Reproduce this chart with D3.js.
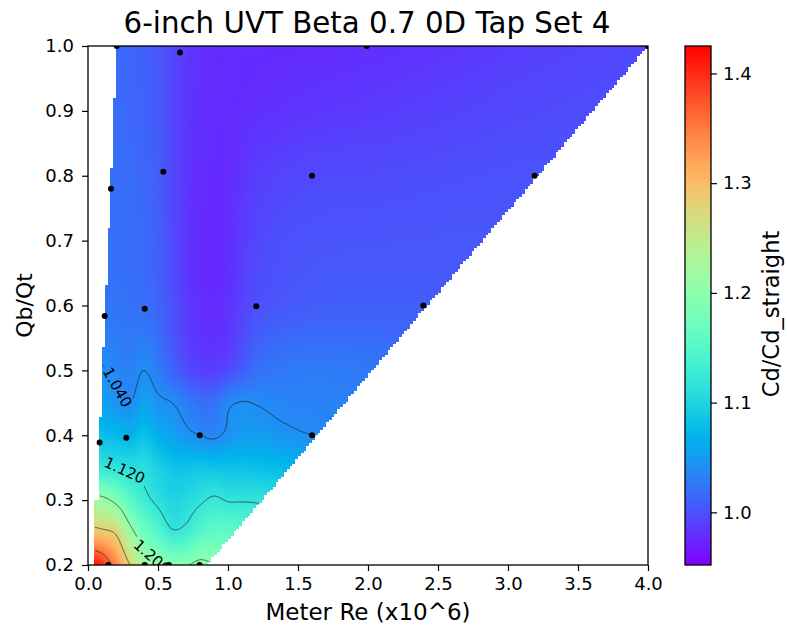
<!DOCTYPE html>
<html>
<head>
<meta charset="utf-8">
<script src="https://cdn.jsdelivr.net/npm/d3@7"></script>
<style>
  body { margin: 0; background: #fff; }
  text { font-family: "DejaVu Sans", sans-serif; fill: #000; }
</style>
</head>
<body>
<svg id="chart" width="787" height="631"></svg>
<script>
// ---- data -------------------------------------------------------------
const chartTitle = "6-inch UVT Beta 0.7 0D Tap Set 4";
const xLabel = "Meter Re (x10^6)";
const yLabel = "Qb/Qt";
const colorLabel = "Cd/Cd_straight";

// Gridded Cd/Cd_straight surface: columns = Meter Re (x10^6), rows = Qb/Qt
const reGrid = [0, 0.1, 0.2, 0.3, 0.4, 0.5, 0.6, 0.7, 0.8, 0.9, 1.0, 1.1, 1.2, 1.4, 1.6, 2.0, 2.5, 3.0, 3.5, 4.0];
const qGrid = [0.2, 0.25, 0.3, 0.35, 0.4, 0.45, 0.5, 0.6, 0.7, 0.8, 0.9, 1.0];
const cdQ020 = [1.43, 1.40, 1.34, 1.28, 1.225, 1.205, 1.2, 1.198, 1.21, 1.2, 1.19, 1.18, 1.17, 1.16, 1.15, 1.14, 1.12, 1.11, 1.1, 1.09];
const cdQ025 = [1.30, 1.29, 1.275, 1.215, 1.175, 1.15, 1.125, 1.13, 1.15, 1.16, 1.16, 1.155, 1.15, 1.14, 1.13, 1.12, 1.1, 1.09, 1.08, 1.07];
const cdQ030 = [1.215, 1.21, 1.19, 1.155, 1.13, 1.113, 1.1, 1.105, 1.115, 1.125, 1.118, 1.118, 1.117, 1.11, 1.1, 1.09, 1.08, 1.07, 1.06, 1.05];
const cdQ035 = [1.13, 1.122, 1.117, 1.11, 1.11, 1.095, 1.085, 1.082, 1.085, 1.083, 1.082, 1.082, 1.08, 1.075, 1.07, 1.065, 1.06, 1.055, 1.05, 1.045];
const cdQ040 = [1.085, 1.08, 1.075, 1.07, 1.08, 1.065, 1.055, 1.046, 1.04, 1.036, 1.045, 1.052, 1.052, 1.046, 1.04, 1.035, 1.03, 1.025, 1.02, 1.015];
const cdQ045 = [1.056, 1.053, 1.047, 1.04, 1.056, 1.045, 1.04, 1.03, 1.02, 1.022, 1.036, 1.041, 1.039, 1.034, 1.033, 1.031, 1.026, 1.02, 1.013, 1.006];
const cdQ050 = [1.045, 1.042, 1.036, 1.031, 1.04, 1.029, 1.014, 1.0, 0.992, 0.99, 0.997, 1.008, 1.02, 1.026, 1.028, 1.026, 1.021, 1.014, 1.007, 1.002];
const cdQ060 = [1.024, 1.024, 1.023, 1.022, 1.02, 1.013, 1.001, 0.988, 0.98, 0.978, 0.982, 0.992, 1.0, 1.005, 1.008, 1.009, 1.008, 1.006, 1.003, 1.0];
const cdQ070 = [1.022, 1.022, 1.021, 1.019, 1.016, 1.01, 0.997, 0.985, 0.978, 0.976, 0.979, 0.987, 0.994, 1.0, 1.002, 1.003, 1.004, 1.004, 1.002, 1.0];
const cdQ080 = [1.022, 1.022, 1.02, 1.018, 1.014, 1.008, 0.996, 0.984, 0.979, 0.977, 0.978, 0.983, 0.988, 0.993, 0.996, 0.997, 0.999, 1.001, 1.001, 1.0];
const cdQ090 = [1.02, 1.02, 1.018, 1.015, 1.012, 1.006, 0.995, 0.985, 0.98, 0.978, 0.978, 0.979, 0.98, 0.982, 0.984, 0.987, 0.991, 0.995, 0.998, 1.0];
const cdQ100 = [1.018, 1.018, 1.016, 1.013, 1.01, 1.004, 0.995, 0.986, 0.981, 0.979, 0.978, 0.978, 0.978, 0.978, 0.978, 0.979, 0.983, 0.988, 0.992, 0.996];
const cdGrid = [cdQ020, cdQ025, cdQ030, cdQ035, cdQ040, cdQ045, cdQ050, cdQ060, cdQ070, cdQ080, cdQ090, cdQ100];

// Measured test points
const pointRe = [0.205, 0.657, 1.99, 4.0, 0.164, 0.538, 1.60, 3.19, 0.119, 0.405, 1.202, 2.395, 0.083, 0.274, 0.798, 1.60, 0.145, 0.405, 0.578, 0.797];
const pointQ  = [1.0, 0.99, 1.0, 1.0, 0.78, 0.806, 0.8, 0.8, 0.584, 0.595, 0.599, 0.6, 0.389, 0.396, 0.4, 0.4, 0.2, 0.2, 0.2, 0.2];

// Outline of the region covered by the test matrix
const domainRe = [0.05, 0.05, 0.086, 0.083, 0.119, 0.164, 0.205, 4.0, 0.85];
const domainQ  = [0.2, 0.3, 0.3, 0.389, 0.584, 0.78, 1.0, 1.0, 0.2];

// Axes, colour range and contours
const xTicks = [0, 0.5, 1.0, 1.5, 2.0, 2.5, 3.0, 3.5, 4.0];
const yTicks = [0.2, 0.3, 0.4, 0.5, 0.6, 0.7, 0.8, 0.9, 1.0];
const colorTicks = [1.0, 1.1, 1.2, 1.3, 1.4];
const colorMin = 0.952, colorMax = 1.425;
const contourLevels = [1.04, 1.12, 1.20, 1.28, 1.36];
const labelLevels = [1.04, 1.12, 1.20];
const labelRe = [0.21, 0.262, 0.457];
const labelQ  = [0.474, 0.346, 0.213];

// ---- layout -----------------------------------------------------------
const plot = { left: 88, right: 648, top: 46, bottom: 565 };
const cbar = { left: 685, right: 711 };
const svg = d3.select("#chart");
const defs = svg.append("defs");

const xScale = d3.scaleLinear().domain([0, 4]).range([plot.left, plot.right]);
const yScale = d3.scaleLinear().domain([0.2, 1.0]).range([plot.bottom, plot.top]);

// matplotlib-style "rainbow" colormap
function rainbow(t) {
  const c = v => Math.max(0, Math.min(1, v));
  const r = c(Math.abs(2 * t - 0.5));
  const g = c(Math.sin(Math.PI * t));
  const b = c(Math.cos(Math.PI * t / 2));
  return d3.rgb(r * 255, g * 255, b * 255).formatRgb();
}
const color = d3.scaleSequential(rainbow).domain([colorMin, colorMax]).clamp(true);
const LUT_N = 1024;
const lut = d3.range(LUT_N).map(k => d3.rgb(color(colorMin + (colorMax - colorMin) * k / (LUT_N - 1))));

// ---- smooth surface (cubic Hermite, separable) ------------------------
function slopes(xs, vs) {
  const n = xs.length, m = new Array(n);
  for (let i = 0; i < n; i++) {
    if (i === 0) m[i] = (vs[1] - vs[0]) / (xs[1] - xs[0]);
    else if (i === n - 1) m[i] = (vs[n - 1] - vs[n - 2]) / (xs[n - 1] - xs[n - 2]);
    else {
      const d0 = (vs[i] - vs[i - 1]) / (xs[i] - xs[i - 1]);
      const d1 = (vs[i + 1] - vs[i]) / (xs[i + 1] - xs[i]);
      m[i] = (d0 + d1) / 2;
    }
  }
  return m;
}
function hermite(xs, vs, ms, x) {
  const n = xs.length;
  if (x <= xs[0]) return vs[0];
  if (x >= xs[n - 1]) return vs[n - 1];
  const k = d3.bisectRight(xs, x) - 1;
  const h = xs[k + 1] - xs[k], t = (x - xs[k]) / h, t2 = t * t, t3 = t2 * t;
  return (2 * t3 - 3 * t2 + 1) * vs[k] + (t3 - 2 * t2 + t) * h * ms[k]
       + (-2 * t3 + 3 * t2) * vs[k + 1] + (t3 - t2) * h * ms[k + 1];
}
const rowSlopes = cdGrid.map(row => slopes(reGrid, row));
function columnAt(re) {
  const col = cdGrid.map((row, j) => hermite(reGrid, row, rowSlopes[j], re));
  return { col, ms: slopes(qGrid, col) };
}

// ---- raster of the surface, masked to the test region ------------------
const domainPoly = domainRe.map((r, i) => [r, domainQ[i]]);
const nCellX = 200, nCellY = 200;
const inside = new Uint8Array(nCellX * nCellY);
for (let j = 0; j < nCellY; j++) {
  for (let i = 0; i < nCellX; i++) {
    const re = (i + 0.5) * 4 / nCellX, q = 0.2 + (j + 0.5) * 0.8 / nCellY;
    inside[j * nCellX + i] = d3.polygonContains(domainPoly, [re, q]) ? 1 : 0;
  }
}
const pw = plot.right - plot.left, ph = plot.bottom - plot.top;
const canvas = document.createElement("canvas");
canvas.width = pw; canvas.height = ph;
const ctx = canvas.getContext("2d");
const img = ctx.createImageData(pw, ph);
for (let px = 0; px < pw; px++) {
  const re = xScale.invert(plot.left + px + 0.5);
  const ci = Math.max(0, Math.min(nCellX - 1, Math.floor(re / 4 * nCellX)));
  const { col, ms } = columnAt(re);
  for (let py = 0; py < ph; py++) {
    const q = yScale.invert(plot.top + py + 0.5);
    const cj = Math.max(0, Math.min(nCellY - 1, Math.floor((q - 0.2) / 0.8 * nCellY)));
    const o = (py * pw + px) * 4;
    if (!inside[cj * nCellX + ci]) { img.data[o + 3] = 0; continue; }
    const v = hermite(qGrid, col, ms, q);
    let k = Math.round((v - colorMin) / (colorMax - colorMin) * (LUT_N - 1));
    k = Math.max(0, Math.min(LUT_N - 1, k));
    const c = lut[k];
    img.data[o] = c.r; img.data[o + 1] = c.g; img.data[o + 2] = c.b; img.data[o + 3] = 255;
  }
}
ctx.putImageData(img, 0, 0);

svg.append("rect").attr("width", 787).attr("height", 631).attr("fill", "#fff");

svg.append("image")
  .attr("x", plot.left).attr("y", plot.top)
  .attr("width", pw).attr("height", ph)
  .attr("href", canvas.toDataURL());

// ---- clip paths ---------------------------------------------------------
defs.append("clipPath").attr("id", "plotClip")
  .append("rect").attr("x", plot.left).attr("y", plot.top).attr("width", pw).attr("height", ph);
defs.append("clipPath").attr("id", "domainClip")
  .append("path")
  .attr("d", "M" + domainPoly.map(p => [xScale(p[0]), yScale(p[1])].join(",")).join("L") + "Z");

// ---- contour lines ------------------------------------------------------
const nx = 330, ny = 300, re0 = -0.05, re1 = 4.05, q0 = 0.18, q1 = 1.02;
const dRe = (re1 - re0) / (nx - 1), dQ = (q1 - q0) / (ny - 1);
const samples = new Array(nx * ny);
for (let i = 0; i < nx; i++) {
  const { col, ms } = columnAt(re0 + i * dRe);
  for (let j = 0; j < ny; j++) samples[j * nx + i] = hermite(qGrid, col, ms, q1 - j * dQ);
}
const contourSet = d3.contours().size([nx, ny]).thresholds(contourLevels)(samples);
const gridToPx = (gx, gy) => [xScale(re0 + (gx - 0.5) * dRe), yScale(q1 - (gy - 0.5) * dQ)];
const contourPath = d3.geoPath(d3.geoTransform({
  point(gx, gy) { const p = gridToPx(gx, gy); this.stream.point(p[0], p[1]); }
}));

const mask = defs.append("mask").attr("id", "labelMask")
  .attr("maskUnits", "userSpaceOnUse")
  .attr("x", 0).attr("y", 0).attr("width", 787).attr("height", 631);
mask.append("rect").attr("width", 787).attr("height", 631).attr("fill", "#fff");

svg.append("g").attr("clip-path", "url(#domainClip)")
  .append("g").attr("mask", "url(#labelMask)")
  .selectAll("path")
  .data(contourSet)
  .join("path")
  .attr("d", contourPath)
  .attr("fill", "none")
  .attr("stroke", "#1a1a1a")
  .attr("stroke-opacity", 0.75)
  .attr("stroke-width", 0.8);

// inline contour labels, oriented along the nearest stretch of their contour
const domainPx = domainPoly.map(p => [xScale(p[0]), yScale(p[1])]);
const labelGroup = svg.append("g").attr("clip-path", "url(#plotClip)");
labelLevels.forEach((level, li) => {
  const px = xScale(labelRe[li]), py = yScale(labelQ[li]);
  const cset = contourSet.find(c => Math.abs(c.value - level) < 1e-9);
  let best = null;
  cset.coordinates.forEach(poly => poly.forEach(ring => {
    const pts = ring.map(p => gridToPx(p[0], p[1]));
    pts.forEach((p, idx) => {
      if (!d3.polygonContains(domainPx, p)) return;
      const d = Math.hypot(p[0] - px, p[1] - py);
      if (!best || d < best.d) best = { d, pts, idx };
    });
  }));
  let angle = 0;
  if (best) {
    const n = best.pts.length;
    const a = best.pts[(best.idx - 4 + n) % n], b = best.pts[(best.idx + 4) % n];
    angle = Math.atan2(b[1] - a[1], b[0] - a[0]) * 180 / Math.PI;
    if (angle > 90) angle -= 180;
    if (angle < -90) angle += 180;
  }
  const t = labelGroup.append("text")
    .attr("transform", `translate(${px},${py}) rotate(${angle})`)
    .attr("text-anchor", "middle")
    .attr("dy", "0.35em")
    .attr("font-size", 15)
    .attr("fill", "#111")
    .text(d3.format(".3f")(level));
  const w = t.node().getComputedTextLength() + 6;
  mask.append("rect")
    .attr("transform", `translate(${px},${py}) rotate(${angle})`)
    .attr("x", -w / 2).attr("y", -8).attr("width", w).attr("height", 16)
    .attr("fill", "#000");
});

// ---- measured points ------------------------------------------------------
svg.append("g").attr("clip-path", "url(#plotClip)")
  .selectAll("circle")
  .data(pointRe.map((r, i) => [r, pointQ[i]]))
  .join("circle")
  .attr("cx", d => xScale(d[0]))
  .attr("cy", d => yScale(d[1]))
  .attr("r", 3)
  .attr("fill", "#000");

// ---- axes -------------------------------------------------------------------
const fmt1 = d3.format(".1f");
const xAxis = svg.append("g")
  .attr("transform", `translate(0,${plot.bottom})`)
  .call(d3.axisBottom(xScale).tickValues(xTicks).tickFormat(fmt1).tickSize(6).tickPadding(6).tickSizeOuter(0));
const yAxis = svg.append("g")
  .attr("transform", `translate(${plot.left},0)`)
  .call(d3.axisLeft(yScale).tickValues(yTicks).tickFormat(fmt1).tickSize(6).tickPadding(8).tickSizeOuter(0));
[xAxis, yAxis].forEach(g => {
  g.select(".domain").remove();
  g.selectAll(".tick line").attr("stroke", "#000").attr("stroke-width", 1.2);
  g.selectAll(".tick text").attr("font-size", 18).attr("font-family", "DejaVu Sans, sans-serif").attr("fill", "#000");
});

svg.append("rect")
  .attr("x", plot.left).attr("y", plot.top).attr("width", pw).attr("height", ph)
  .attr("fill", "none").attr("stroke", "#000").attr("stroke-width", 1.3);

// ---- colour bar -------------------------------------------------------------
const grad = defs.append("linearGradient").attr("id", "cbGrad")
  .attr("x1", 0).attr("y1", 1).attr("x2", 0).attr("y2", 0);
d3.range(0, 1.0001, 0.02).forEach(t => {
  grad.append("stop").attr("offset", t).attr("stop-color", color(colorMin + t * (colorMax - colorMin)));
});
const cScale = d3.scaleLinear().domain([colorMin, colorMax]).range([plot.bottom, plot.top]);
svg.append("rect")
  .attr("x", cbar.left).attr("y", plot.top)
  .attr("width", cbar.right - cbar.left).attr("height", ph)
  .attr("fill", "url(#cbGrad)")
  .attr("stroke", "#000").attr("stroke-width", 1.3);
const cAxis = svg.append("g")
  .attr("transform", `translate(${cbar.right},0)`)
  .call(d3.axisRight(cScale).tickValues(colorTicks).tickFormat(fmt1).tickSize(6).tickPadding(6).tickSizeOuter(0));
cAxis.select(".domain").remove();
cAxis.selectAll(".tick line").attr("stroke", "#000").attr("stroke-width", 1.2);
cAxis.selectAll(".tick text").attr("font-size", 18).attr("font-family", "DejaVu Sans, sans-serif").attr("fill", "#000");

// ---- titles -----------------------------------------------------------------
svg.append("text")
  .attr("x", (plot.left + plot.right) / 2 - 1).attr("y", 33)
  .attr("text-anchor", "middle").attr("font-size", 29.3)
  .text(chartTitle);
svg.append("text")
  .attr("x", (plot.left + plot.right) / 2).attr("y", 620)
  .attr("text-anchor", "middle").attr("font-size", 23)
  .text(xLabel);
svg.append("text")
  .attr("transform", `translate(32,${(plot.top + plot.bottom) / 2}) rotate(-90)`)
  .attr("text-anchor", "middle").attr("font-size", 22)
  .text(yLabel);
svg.append("text")
  .attr("transform", `translate(779,314) rotate(-90)`)
  .attr("text-anchor", "middle").attr("font-size", 22.6)
  .text(colorLabel);
</script>
</body>
</html>
